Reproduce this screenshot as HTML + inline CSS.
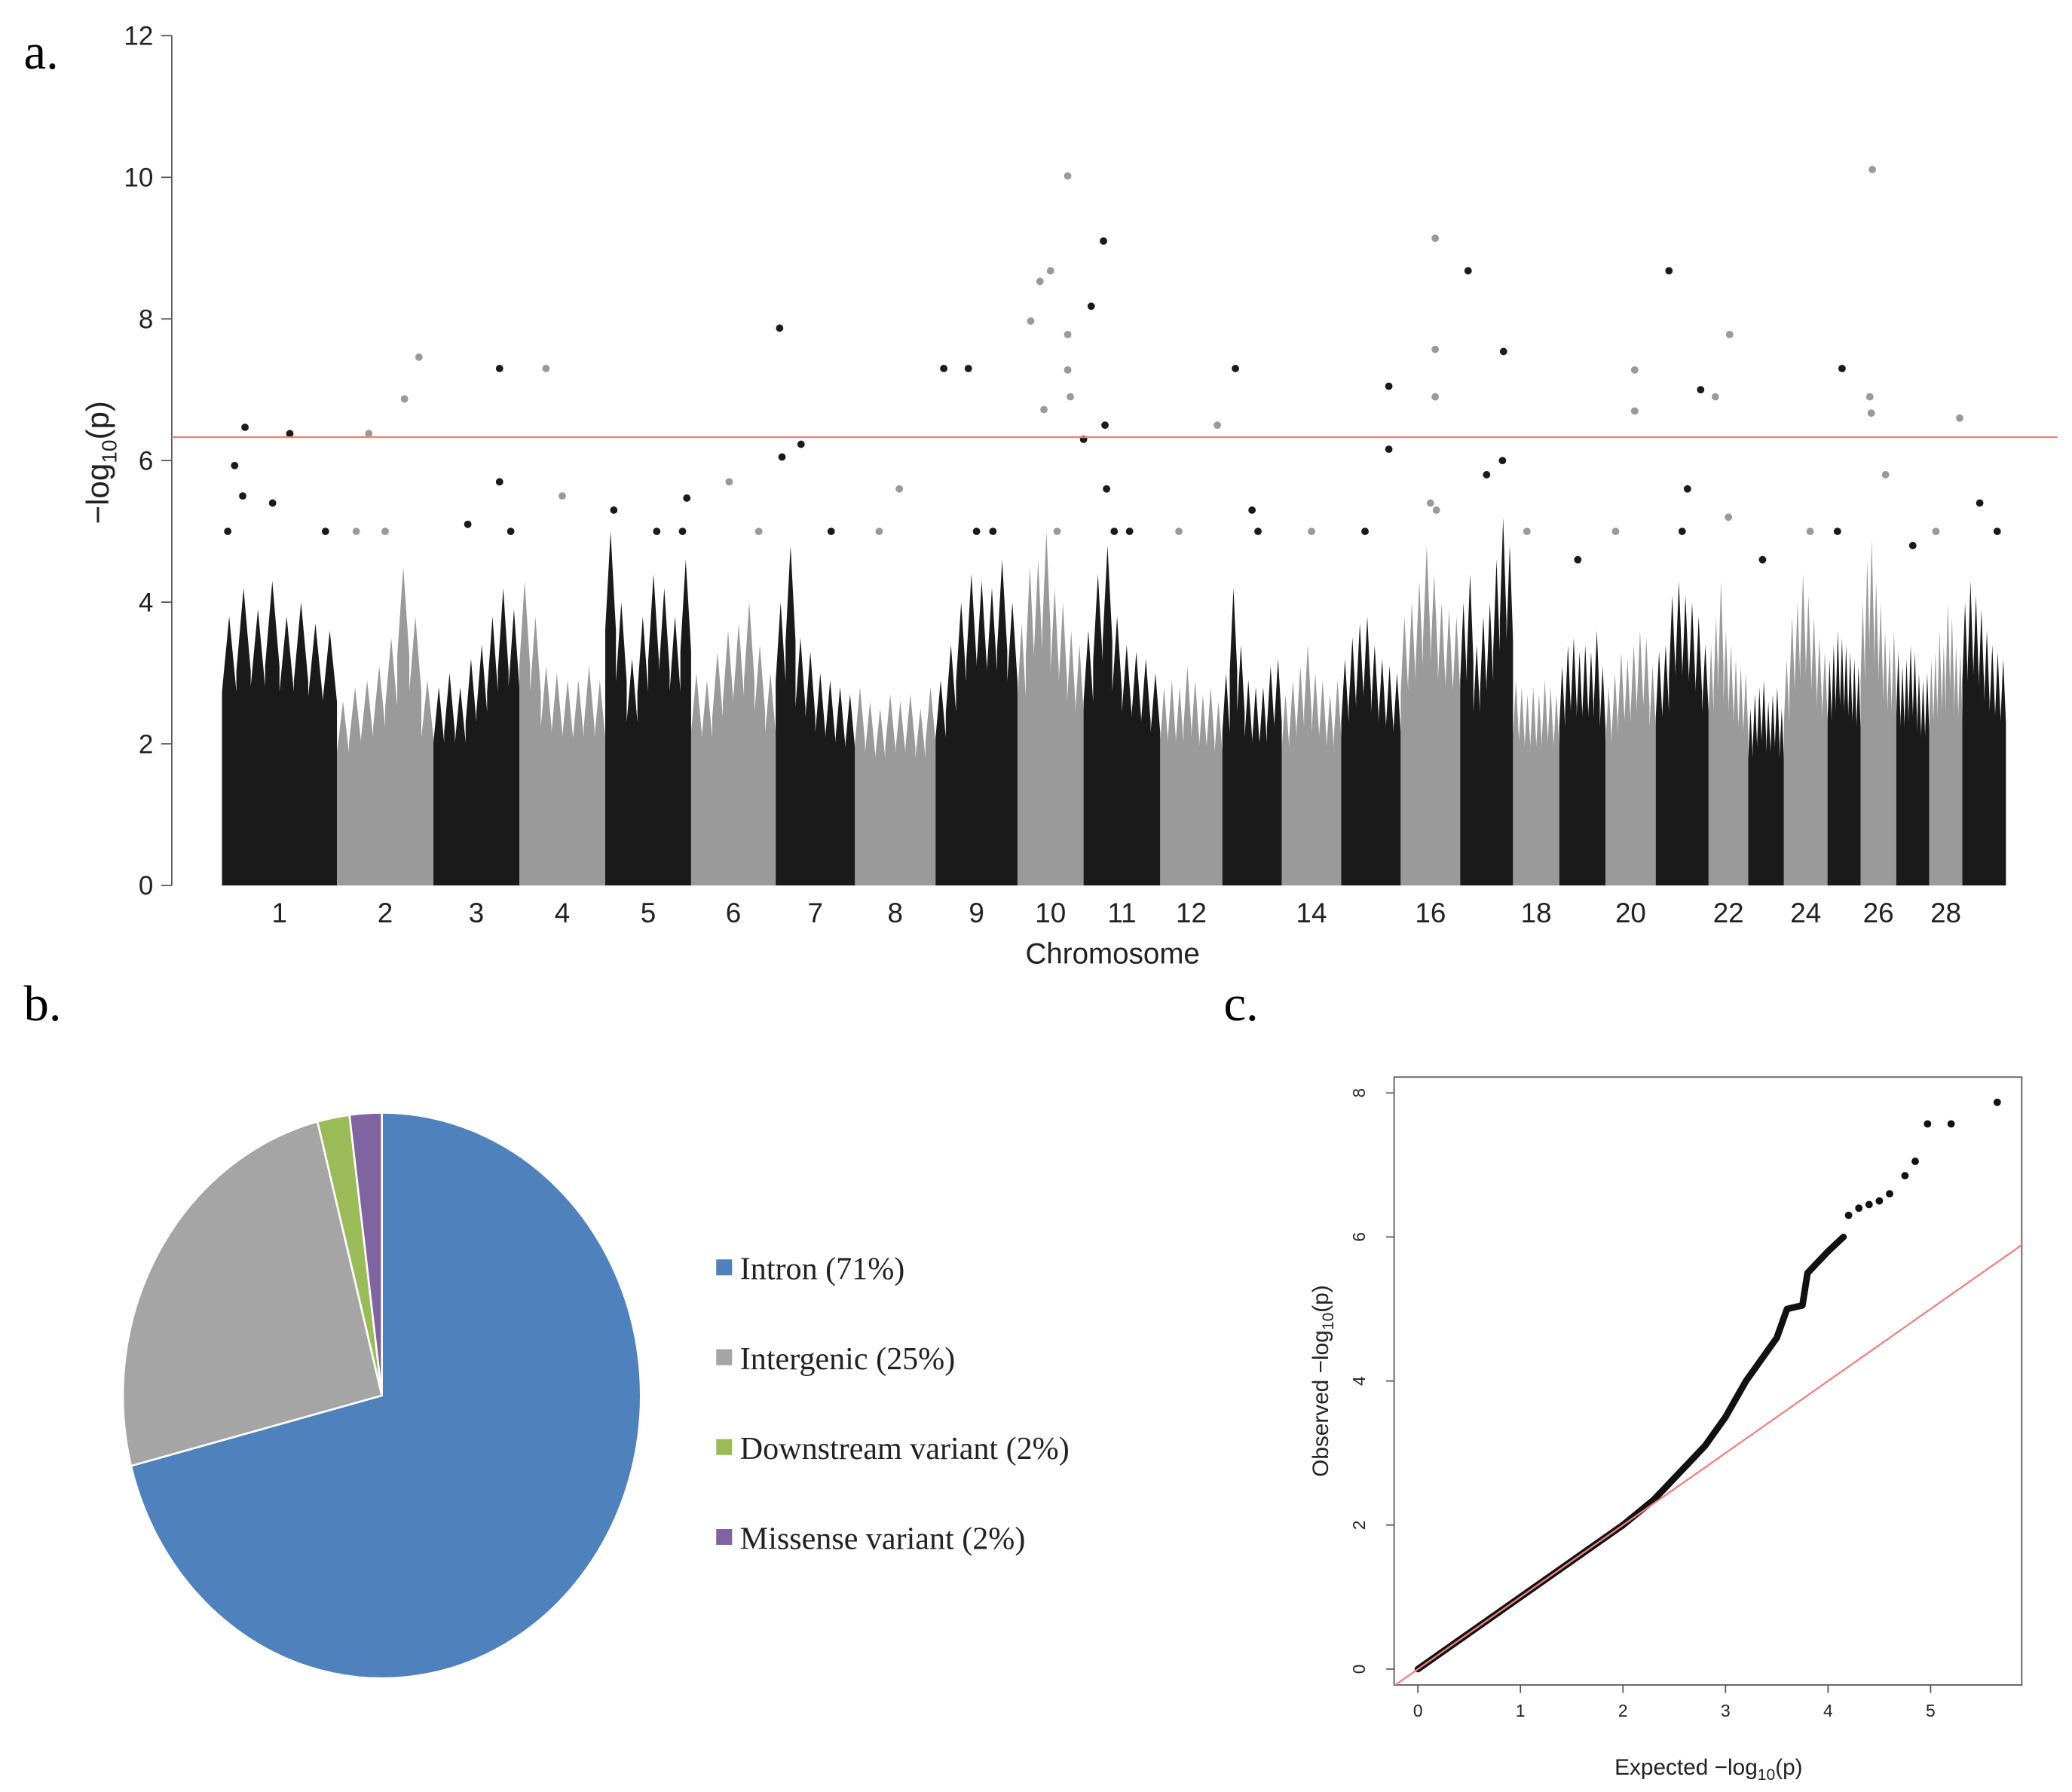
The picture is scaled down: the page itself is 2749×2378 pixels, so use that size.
<!DOCTYPE html>
<html><head><meta charset="utf-8"><style>
html,body{margin:0;padding:0;background:#fff;}
svg{display:block;}
</style></head><body>
<svg id="fig" xmlns="http://www.w3.org/2000/svg" width="2749" height="2378" viewBox="0 0 1568 1356" preserveAspectRatio="none" font-family="Liberation Sans, sans-serif">
<text x="18" y="52" font-family="Liberation Serif, serif" font-size="38">a.</text>
<text x="18" y="772" font-family="Liberation Serif, serif" font-size="38">b.</text>
<text x="926" y="772" font-family="Liberation Serif, serif" font-size="38">c.</text>
<g id="man"></g>
<g id="pie"></g>
<g id="qq"></g>
</svg>
<script>
const NS='http://www.w3.org/2000/svg';
function mk(p,t,a,txt){const e=document.createElementNS(NS,t);for(const k in a)e.setAttribute(k,a[k]);if(txt!==undefined)e.textContent=txt;p.appendChild(e);return e;}

// ---------- Manhattan data ----------
const chrLengths=[87,73,65,65,65,64,60,61,62,50,58,47,45,45,45,45,40,35,35,38,40,30,27,33,25,27,25,25,33];
const chrLabels=["1","2","3","4","5","6","7","8","9","10","11","12","","14","","16","","18","","20","","22","","24","","26","","28",""];
const yTicks=[0,2,4,6,8,10,12];
const threshold=6.33;
const envelopes=[
[3.8,4.2,3.9,4.3,3.8,4.0,3.7,3.6],[2.6,2.8,2.9,3.1,3.5,4.5,3.8,2.9],[2.8,3.0,2.8,3.2,3.4,3.8,4.2,3.9],
[4.3,3.8,3.1,3.0,2.9,2.9,3.1,2.9],[5.0,4.0,3.2,3.8,4.4,4.2,3.8,4.6],[3.0,2.9,3.3,3.6,3.7,4.0,3.4,3.0],
[4.0,4.8,3.5,3.3,3.0,2.9,2.8,2.7],[2.8,2.6,2.5,2.7,2.6,2.7,2.5,2.8],[2.9,3.4,4.0,4.4,4.3,4.2,4.6,4.0],
[3.7,4.5,4.6,5.0,4.2,4.0,3.6,3.4],[3.6,4.4,4.8,3.8,3.4,3.3,3.2,3.0],[2.8,2.9,2.8,3.1,2.9,2.7,2.8,2.6],
[3.0,4.2,3.4,2.9,2.8,2.8,3.1,3.2],[2.7,2.9,3.1,3.4,3.0,2.9,2.7,2.9],[3.2,3.5,3.7,3.8,3.4,3.2,3.1,3.0],
[3.8,4.0,4.3,4.8,4.4,4.0,3.9,3.8],[4.0,4.4,3.4,3.8,4.0,4.6,5.2,4.8],[2.9,2.8,2.7,2.8,2.7,2.9,2.8,2.7],
[3.1,3.4,3.5,3.3,3.4,3.3,3.6,3.1],[2.8,3.0,3.3,3.2,3.4,3.6,3.5,3.1],[3.3,3.4,4.1,4.3,4.1,4.0,3.8,3.4],
[3.4,3.8,4.3,3.6,3.4,3.2,3.1,3.0],[2.5,2.7,2.8,2.9,2.6,2.7,2.8,2.5],[3.2,3.8,4.0,4.4,4.1,3.8,3.5,3.3],
[3.2,3.4,3.6,3.5,3.4,3.3,3.2,3.1],[4.0,4.6,4.9,4.3,4.0,3.6,3.4,3.6],[3.3,3.1,3.2,3.4,3.3,3.0,2.9,3.0],
[3.2,3.3,3.6,3.4,4.0,3.8,3.4,3.3],[4.0,4.3,4.1,3.9,3.6,3.4,3.3,3.2]];
const peakChr=[1,1,1,1,1,2,2,2,3,3,4,5,6,7,7,7,8,9,9,10,10,10,10,10,10,10,10,11,11,11,11,12,13,15,15,16,16,16,17,17,20,20,21,21,22,22,25,26,26,26,28,5,9,16,17,11,13,21,
 1,1,2,2,3,3,4,5,5,6,7,8,9,10,11,11,12,13,14,15,16,17,18,19,20,21,22,23,24,25,26,27,28,29,29];
const peakFrac=[0.2,0.59,0.11,0.18,0.44,0.85,0.7,0.33,0.77,0.77,0.31,0.95,0.45,0.05,0.32,0.08,0.55,0.1,0.4,0.76,0.5,0.34,0.2,0.76,0.76,0.4,0.8,0.26,0.1,0.28,0.0,0.92,0.22,0.8,0.8,0.58,0.58,0.58,0.15,0.82,0.58,0.58,0.25,0.85,0.53,0.17,0.44,0.33,0.26,0.3,0.92,0.1,0.5,0.5,0.8,0.3,0.5,0.6,
 0.05,0.9,0.2,0.5,0.4,0.9,0.5,0.6,0.9,0.8,0.7,0.3,0.7,0.6,0.4,0.6,0.3,0.6,0.5,0.4,0.6,0.5,0.3,0.4,0.2,0.5,0.5,0.4,0.6,0.3,0.7,0.5,0.2,0.4,0.8];
const peakVal=[6.47,6.38,5.93,5.5,5.4,7.46,6.87,6.38,7.3,5.7,7.3,5.47,5.7,7.87,6.23,6.05,5.6,7.3,7.3,10.02,8.68,8.53,7.97,7.78,7.28,6.72,6.9,9.1,8.18,6.5,6.3,6.5,7.3,7.05,6.16,9.14,7.57,6.9,8.68,7.54,7.28,6.7,8.68,7.0,7.78,6.9,7.3,10.11,6.9,6.67,6.6,5.3,5.0,5.4,6.0,5.6,5.3,5.6,
 5.0,5.0,5.0,5.0,5.1,5.0,5.5,5.0,5.0,5.0,5.0,5.0,5.0,5.0,5.0,5.0,5.0,5.0,5.0,5.0,5.3,5.8,5.0,4.6,5.0,5.0,5.2,4.6,5.0,5.0,5.8,4.8,5.0,5.4,5.0];

const man=document.getElementById('man');
const X0=168,X1=1518,Y0=670,Y12=27;
const totalLen=chrLengths.reduce((a,b)=>a+b,0);
const sx=v=>X0+v/totalLen*(X1-X0);
const sy=v=>Y0-v/12*(Y0-Y12);
const starts=[];let acc=0;chrLengths.forEach(l=>{starts.push(acc);acc+=l;});
mk(man,'line',{x1:130,y1:sy(0),x2:130,y2:sy(12),stroke:'#555','stroke-width':1,});
yTicks.forEach(t=>{
  const tk=mk(man,'line',{x1:122,x2:130,y1:sy(t),y2:sy(t),stroke:'#555'});
  
  const tl=mk(man,'text',{x:116,y:sy(t)+7,'text-anchor':'end','font-size':20,fill:'#222'},String(t));
  
});
const yt=mk(man,'text',{x:0,y:0,'font-size':24,'text-anchor':'middle',transform:'translate(82,350) rotate(-90)',fill:'#222'});

yt.innerHTML='\u2212log<tspan font-size="16" dy="6">10</tspan><tspan dy="-6">(p)</tspan>';
chrLengths.forEach((l,i)=>{
  const col=i%2===0?'#1a1a1a':'#9a9a9a';
  const env=envelopes[i];const n=env.length;
  let d='M'+sx(starts[i])+','+sy(0);
  env.forEach((v,j)=>{
    const a=sx(starts[i]+l*j/n),b=sx(starts[i]+l*(j+1)/n);
    d+=' L'+a+','+sy(v*0.72)+' L'+((a+b)/2)+','+sy(v)+' L'+b+','+sy(v*0.72);
  });
  d+=' L'+sx(starts[i]+l)+','+sy(0)+'Z';
  const p=mk(man,'path',{d:d,fill:col});
  
  const lab=chrLabels[i];
  if(lab){const t=mk(man,'text',{x:sx(starts[i]+l/2),y:698,'text-anchor':'middle','font-size':21,fill:'#222'},lab);
  }
});
peakChr.forEach((c,k)=>{
  const i=c-1;const col=i%2===0?'#1a1a1a':'#9a9a9a';
  const pt=mk(man,'circle',{cx:sx(starts[i]+chrLengths[i]*peakFrac[k]),cy:sy(peakVal[k]),r:2.8,fill:col});
  
});
const th=mk(man,'line',{x1:130,x2:1557,y1:sy(threshold),y2:sy(threshold),stroke:'#e88080','stroke-width':1.3});

const xt=mk(man,'text',{x:842,y:729,'text-anchor':'middle','font-size':22,fill:'#222'},'Chromosome');


// ---------- Pie ----------
const pieLabels=['Intron (71%)','Intergenic (25%)','Downstream variant (2%)','Missense variant (2%)'];
const pieValues=[71,25,2,2];
const pieColors=['#4f81bd','#a5a5a5','#9bbb59','#8064a2'];
const pie=document.getElementById('pie');
const cx=289,cy=1056,RX=196,RY=214;let ang=-Math.PI/2;const tot=pieValues.reduce((a,b)=>a+b,0);
pieValues.forEach((v,i)=>{
  const a2=ang+v/tot*2*Math.PI;
  const large=(a2-ang)>Math.PI?1:0;
  const d=`M${cx},${cy} L${cx+RX*Math.cos(ang)},${cy+RY*Math.sin(ang)} A${RX},${RY} 0 ${large} 1 ${cx+RX*Math.cos(a2)},${cy+RY*Math.sin(a2)} Z`;
  const s=mk(pie,'path',{d:d,fill:pieColors[i],stroke:'#fff','stroke-width':1.5});
  
  ang=a2;
  const ly=968+i*68;
  const sq=mk(pie,'rect',{x:542,y:ly-15,width:12,height:12,fill:pieColors[i]});
  
  const lt=mk(pie,'text',{x:560,y:ly,'font-size':24,'font-family':'Liberation Serif, serif',fill:'#222'},pieLabels[i]);
  
});

// ---------- QQ ----------
const qqExpected=[0,0.5,1,1.5,2,2.3,2.6,2.8,3.0,3.2,3.3,3.5,3.6,3.75,3.8,4.0,4.15];
const qqObserved=[0,0.5,1,1.5,2,2.35,2.8,3.1,3.5,4.0,4.2,4.6,5.0,5.05,5.5,5.8,6.0];
const qqTopExp=[4.2,4.3,4.4,4.5,4.6,4.75,4.85,4.97,5.2,5.65];
const qqTopObs=[6.3,6.4,6.45,6.5,6.6,6.85,7.05,7.57,7.57,7.87];
const qxT=[0,1,2,3,4,5],qyT=[0,2,4,6,8];
const qq=document.getElementById('qq');
const qx=v=>1073+v*77.6, qy=v=>1263-v*54.5;
mk(mk(qq,'defs',{}),'clipPath',{id:'qc'}).appendChild(document.createElementNS(NS,'rect'));
const cr=qq.querySelector('#qc rect');cr.setAttribute('x',1055);cr.setAttribute('y',815);cr.setAttribute('width',475);cr.setAttribute('height',460);
const box=mk(qq,'rect',{x:1055,y:815,width:475,height:460,fill:'none',stroke:'#555','stroke-width':1});

qxT.forEach(t=>{mk(qq,'line',{x1:qx(t),x2:qx(t),y1:1275,y2:1281,stroke:'#555'});
  const l=mk(qq,'text',{x:qx(t),y:1299,'text-anchor':'middle','font-size':13,fill:'#222'},String(t));
  });
qyT.forEach(t=>{mk(qq,'line',{x1:1049,x2:1055,y1:qy(t),y2:qy(t),stroke:'#555'});
  const l=mk(qq,'text',{x:0,y:0,'text-anchor':'middle','font-size':13,fill:'#222',transform:`translate(1033,${qy(t)}) rotate(-90)`},String(t));
  });
const qxl=mk(qq,'text',{x:1293,y:1343,'text-anchor':'middle','font-size':17,fill:'#222'});

qxl.innerHTML='Expected \u2212log<tspan font-size="12" dy="4">10</tspan><tspan dy="-4">(p)</tspan>';
const qyl=mk(qq,'text',{x:0,y:0,'text-anchor':'middle','font-size':17,fill:'#222',transform:'translate(1005,1045) rotate(-90)'});

qyl.innerHTML='Observed \u2212log<tspan font-size="12" dy="4">10</tspan><tspan dy="-4">(p)</tspan>';
const g=mk(qq,'g',{'clip-path':'url(#qc)'});
let pd='';qqExpected.forEach((e,i)=>{pd+=(i?' L':'M')+qx(e)+','+qy(qqObserved[i]);});
const qline=mk(g,'path',{d:pd,fill:'none',stroke:'#111','stroke-width':5,'stroke-linecap':'round','stroke-linejoin':'round'});

qqTopExp.forEach((e,i)=>{const c=mk(g,'circle',{cx:qx(e),cy:qy(qqTopObs[i]),r:2.8,fill:'#111'});
  });
const ref=mk(g,'line',{x1:qx(-1),y1:qy(-1),x2:qx(7),y2:qy(7),stroke:'#f08080','stroke-width':1.3});

</script>
</body></html>
